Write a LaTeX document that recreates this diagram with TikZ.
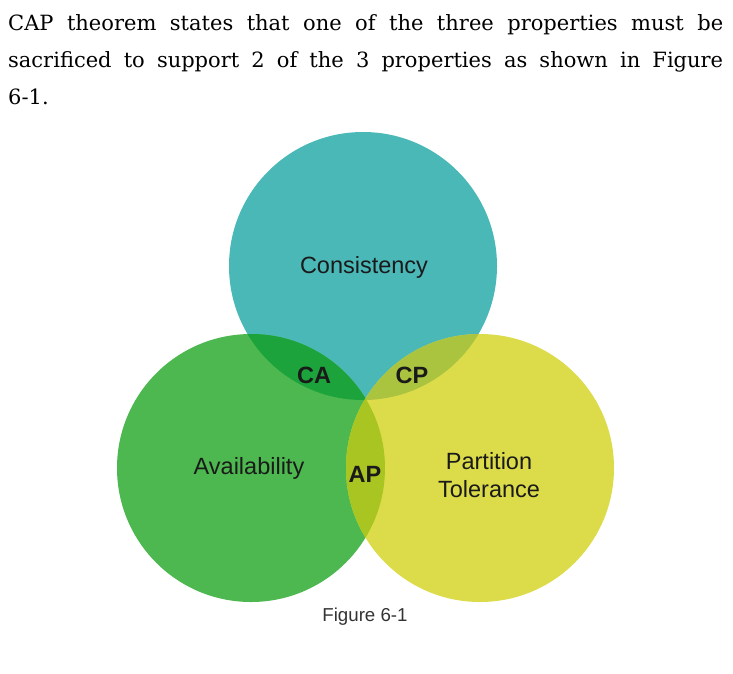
\documentclass[tikz,border=0pt]{standalone}
\usepackage{fontspec}
\setmainfont{DejaVu Serif}
\setsansfont{Liberation Sans}
\usetikzlibrary{positioning}
\definecolor{consteal}{HTML}{4BB8B8}
\definecolor{availgreen}{HTML}{4DB84F}
\definecolor{partyellow}{HTML}{DCDC4B}
\definecolor{cagreen}{HTML}{1CA33C}
\definecolor{cpolive}{HTML}{AAC43F}
\definecolor{aplime}{HTML}{A9C521}
\definecolor{labelblack}{HTML}{1A1A1A}
\definecolor{captiongray}{HTML}{333333}

\begin{document}
\begin{tikzpicture}[x=1pt, y=-1pt,
  setlabel/.style={font=\sffamily\fontsize{23.5}{28}\selectfont,
                   text=labelblack, align=center, inner sep=0pt},
  pairlabel/.style={setlabel, font=\sffamily\bfseries\fontsize{23.5}{28}\selectfont},
  caption/.style={font=\sffamily\fontsize{18.7}{22}\selectfont,
                  text=captiongray, inner sep=0pt}
]
  \useasboundingbox (0,0) rectangle (733,673);

  %% Intro text
  \node[anchor=north west, text width=715pt, align=justify, inner sep=0pt,
        font=\fontsize{21}{37}\selectfont] (intro) at (8,14.5)
    {CAP theorem states that one of the three properties must be\linebreak
     sacrificed to support 2 of the 3 properties as shown in Figure\linebreak
     6-1.};

  %% Circle centres
  \coordinate (cons) at (363,266);
  \coordinate (avail) at (251,468);
  \coordinate (part) at (480,468);

  %% Sets
  \fill[consteal] (cons) circle (134);
  \fill[availgreen] (avail) circle (134);
  \fill[partyellow] (part) circle (134);

  %% Pairwise overlaps
  \begin{scope}
    \clip (cons) circle (134);
    \fill[cagreen] (avail) circle (134);
  \end{scope}
  \begin{scope}
    \clip (cons) circle (134);
    \fill[cpolive] (part) circle (134);
  \end{scope}
  \begin{scope}
    \clip (avail) circle (134);
    \fill[aplime] (part) circle (134);
  \end{scope}

  %% Labels
  \node[setlabel] (conslbl) at (364,267) {Consistency};
  \node[setlabel] (availlbl) at (249,468) {Availability};
  \node[setlabel] (partlbl) at (489,475) {Partition\\Tolerance};
  \node[pairlabel] (ca) at (314,375) {CA};
  \node[pairlabel] (cp) at (412,375) {CP};
  \node[pairlabel] (ap) at (365,474) {AP};

  %% Caption
  \node[caption] (fig) at (365,617) {Figure 6-1};
\end{tikzpicture}
\end{document}
